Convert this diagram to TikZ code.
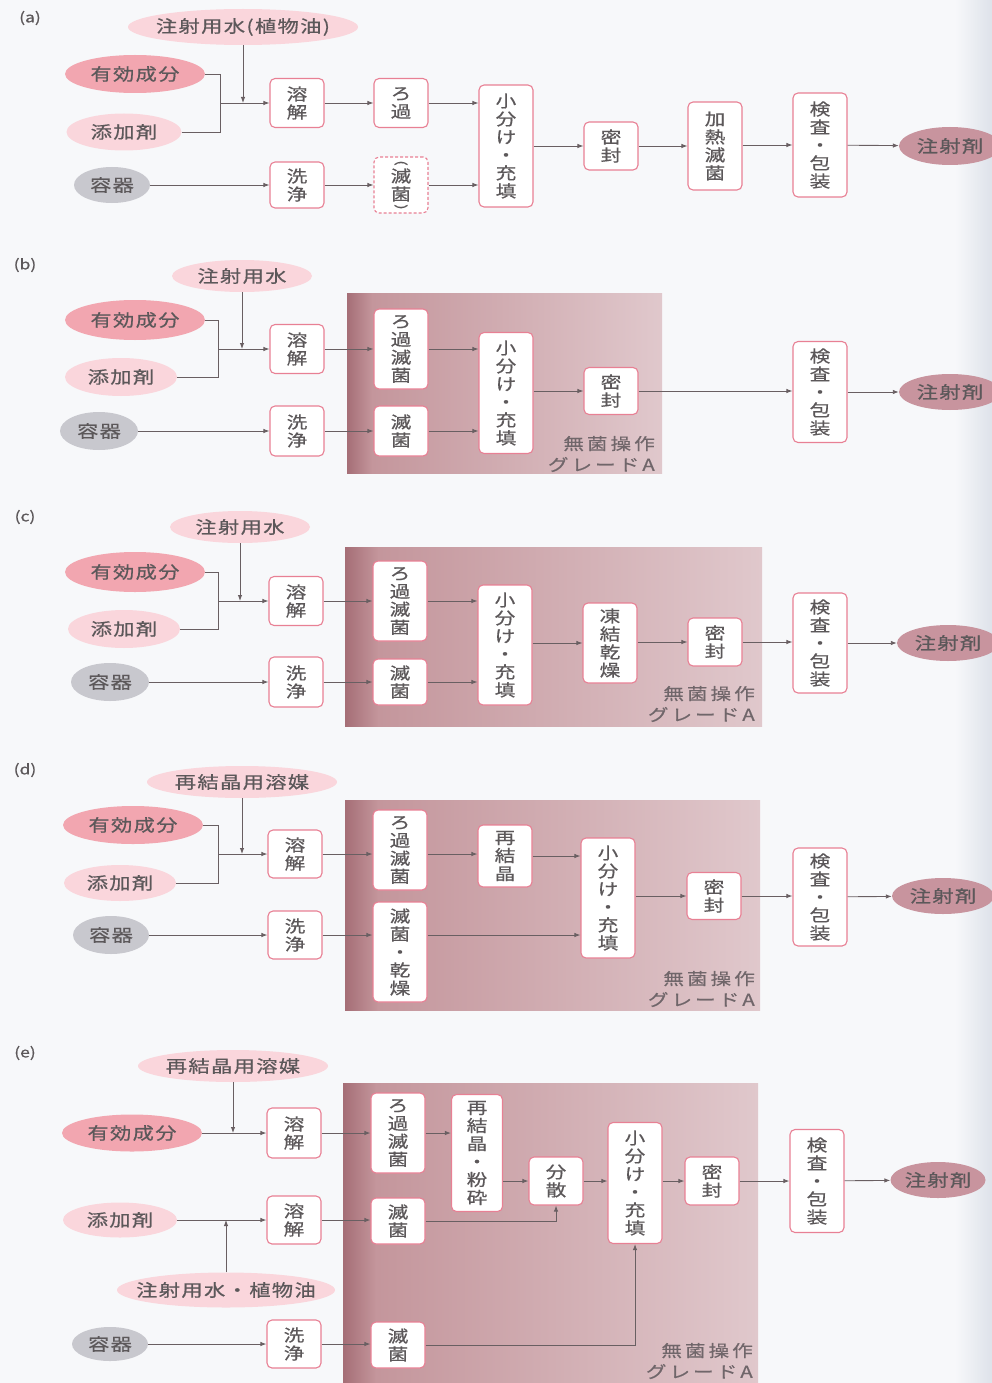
\documentclass[tikz,border=0pt]{standalone}
\usepackage{fontspec}
\setmainfont{Noto Sans CJK JP}[FakeStretch=1.25,FakeBold=0.6]
\newfontfamily\elfont{Noto Sans CJK JP}[FakeStretch=1.25,FakeBold=0.6,LetterSpace=8]
\newfontfamily\ztfont{Noto Sans CJK JP}[FakeStretch=1.25,FakeBold=0.4,LetterSpace=18]
\usetikzlibrary{shapes.geometric,arrows.meta}
\definecolor{txt}{RGB}{92,88,90}
\definecolor{ztc}{RGB}{112,102,106}
\definecolor{bord}{RGB}{232,128,148}
\definecolor{pkD}{RGB}{242,166,176}
\definecolor{pkL}{RGB}{250,214,220}
\definecolor{gry}{RGB}{200,200,206}
\definecolor{prod}{RGB}{200,148,158}
\definecolor{zoneL}{RGB}{165,110,118}
\definecolor{zoneM}{RGB}{196,150,156}
\definecolor{zoneR}{RGB}{224,200,204}
\definecolor{lnc}{RGB}{105,95,98}
\definecolor{bgc}{RGB}{247,248,250}
\definecolor{edgec}{RGB}{222,226,234}
\pgfdeclarehorizontalshading{zoneshade}{100bp}{color(0bp)=(zoneL); color(25bp)=(zoneL); color(29bp)=(zoneM); color(75bp)=(zoneR); color(100bp)=(zoneR)}
\newcommand\E[1]{\makebox[0pt]{#1}}
\tikzset{
 bx/.style={draw=bord, line width=1.1pt, rounded corners=5pt, fill=white, minimum width=54pt, inner sep=0pt, align=center, text=txt, font=\fontsize{16.5}{18}\selectfont},
 dbx/.style={bx, dash pattern=on 3pt off 2pt},
 el/.style={ellipse, inner sep=0pt, text=txt, font=\elfont\fontsize{17}{18}\selectfont},
 ar/.style={draw=lnc, line width=0.9pt, -{Latex[length=6pt,width=4.5pt]}},
 pl/.style={draw=lnc, line width=0.9pt},
 zone/.style={shading=zoneshade, draw=none},
 zt/.style={align=right, text=ztc, font=\ztfont\fontsize{16.5}{21}\selectfont, anchor=east, inner sep=0pt},
 par/.style={text=txt, font=\fontsize{13}{13}\selectfont, inner sep=0pt, rotate=-90},
 lab/.style={text=txt, font=\fontsize{14}{15}\selectfont}
}
\begin{document}
\begin{tikzpicture}[x=1pt,y=-1pt]
\useasboundingbox (0,0) rectangle (992,1383);
\fill[bgc] (0,0) rectangle (992,1383);
\shade[left color=bgc, right color=edgec] (955,0) rectangle (992,1383);

%% (a)
\node[lab] (la) at (30,18) {(a)};
\node[el, fill=pkL, minimum width=230pt, minimum height=36pt] (aW) at (243,27) {\E{注射用水(植物油)}};
\node[el, fill=pkD, minimum width=140pt, minimum height=38pt] (aE) at (135,74) {\E{有効成分}};
\node[el, fill=pkL, minimum width=115pt, minimum height=37pt] (aA) at (124,132) {\E{添加剤}};
\node[el, fill=gry, minimum width=76pt, minimum height=36pt] (aC) at (112,185) {\E{容器}};
\node[bx, minimum height=49pt] (aD) at (297,103) {溶\\解};
\node[bx, minimum height=49pt] (aF) at (401,103) {ろ\\過};
\node[bx, minimum height=46pt] (aWa) at (297,185) {洗\\浄};
\node[dbx, minimum height=56pt] (aS) at (401,185) {滅\\菌};
\node[par] (aSp) at ([yshift=22pt]aS.center) {(};
\node[par] (aSq) at ([yshift=-22pt]aS.center) {)};
\node[bx, minimum height=122pt] (aP) at (506,146) {小\\分\\け\\・\\充\\填};
\node[bx, minimum height=48pt] (aM) at (611,146) {密\\封};
\node[bx, minimum height=88pt] (aH) at (715,146) {加\\熱\\滅\\菌};
\node[bx, minimum height=104pt] (aI) at (820,145) {検\\査\\・\\包\\装};
\node[el, fill=prod, minimum width=102pt, minimum height=38pt] (aO) at (950,146) {\E{注射剤}};
\coordinate (aJ) at (220,103);
\draw[pl] (aE.east) -| (aJ);
\draw[pl] (aA.east) -| (aJ);
\draw[ar] (aJ) -- (aD.west);
\draw[ar] (aW.south) -- (aW.south |- aJ);
\draw[ar] (aC.east) -- (aWa.west);
\draw[ar] (aD) -- (aF);
\draw[ar] (aWa) -- (aS);
\draw[ar] (aF.east) -- (aF.east -| aP.west);
\draw[ar] (aS.east) -- (aS.east -| aP.west);
\draw[ar] (aP.east |- aM) -- (aM.west);
\draw[ar] (aM) -- (aH);
\draw[ar] (aH.east |- aI) -- (aI.west);
\draw[ar] (aI) -- (aO);

%% (b)
\node[lab] (lb) at (25,265) {(b)};
\node[el, fill=pkL, minimum width=140pt, minimum height=32pt] (bW) at (242,276) {\E{注射用水}};
\node[el, fill=pkD, minimum width=140pt, minimum height=40pt] (bE) at (135,320) {\E{有効成分}};
\node[el, fill=pkL, minimum width=112pt, minimum height=38pt] (bA) at (121,377) {\E{添加剤}};
\node[el, fill=gry, minimum width=78pt, minimum height=38pt] (bC) at (99,431) {\E{容器}};
\node[bx, minimum height=49pt] (bD) at (297,349) {溶\\解};
\node[bx, minimum height=50pt] (bWa) at (297,431) {洗\\浄};
\shade[zone] (347,293) rectangle (662,473);
\node[bx, minimum height=80pt] (bF) at (401,349) {ろ\\過\\滅\\菌};
\node[bx, minimum height=50pt] (bS) at (401,431) {滅\\菌};
\node[bx, minimum height=121pt] (bP) at (506,393) {小\\分\\け\\・\\充\\填};
\node[bx, minimum height=47pt] (bM) at (611,391) {密\\封};
\node[zt] (bZ) at (655,454) {無菌操作\\グレードA};
\node[bx, minimum height=101pt] (bI) at (820,392) {検\\査\\・\\包\\装};
\node[el, fill=prod, minimum width=102pt, minimum height=36pt] (bO) at (950,392) {\E{注射剤}};
\coordinate (bJ) at (218,349);
\draw[pl] (bE.east) -| (bJ);
\draw[pl] (bA.east) -| (bJ);
\draw[ar] (bJ) -- (bD.west);
\draw[ar] (bW.south) -- (bW.south |- bJ);
\draw[ar] (bC.east) -- (bWa.west);
\draw[ar] (bD) -- (bF);
\draw[ar] (bWa) -- (bS);
\draw[ar] (bF.east) -- (bF.east -| bP.west);
\draw[ar] (bS.east) -- (bS.east -| bP.west);
\draw[ar] (bP.east |- bM) -- (bM.west);
\draw[ar] (bM.east) -- (bM.east -| bI.west);
\draw[ar] (bI) -- (bO);

%% (c)
\node[lab] (lc) at (25,517) {(c)};
\node[el, fill=pkL, minimum width=140pt, minimum height=32pt] (cW) at (240,527) {\E{注射用水}};
\node[el, fill=pkD, minimum width=140pt, minimum height=40pt] (cE) at (135,572) {\E{有効成分}};
\node[el, fill=pkL, minimum width=112pt, minimum height=38pt] (cA) at (124,629) {\E{添加剤}};
\node[el, fill=gry, minimum width=78pt, minimum height=38pt] (cC) at (110,682) {\E{容器}};
\node[bx, minimum height=49pt] (cD) at (296,601) {溶\\解};
\node[bx, minimum height=50pt] (cWa) at (296,682) {洗\\浄};
\shade[zone] (345,547) rectangle (762,726);
\node[bx, minimum height=80pt] (cF) at (400,601) {ろ\\過\\滅\\菌};
\node[bx, minimum height=46pt] (cS) at (400,682) {滅\\菌};
\node[bx, minimum height=120pt] (cP) at (505,645) {小\\分\\け\\・\\充\\填};
\node[bx, minimum height=80pt] (cFD) at (610,643) {凍\\結\\乾\\燥};
\node[bx, minimum height=48pt] (cM) at (715,642) {密\\封};
\node[zt] (cZ) at (755,704) {無菌操作\\グレードA};
\node[bx, minimum height=100pt] (cI) at (820,643) {検\\査\\・\\包\\装};
\node[el, fill=prod, minimum width=102pt, minimum height=36pt] (cO) at (948,643) {\E{注射剤}};
\coordinate (cJ) at (218,601);
\draw[pl] (cE.east) -| (cJ);
\draw[pl] (cA.east) -| (cJ);
\draw[ar] (cJ) -- (cD.west);
\draw[ar] (cW.south) -- (cW.south |- cJ);
\draw[ar] (cC.east) -- (cWa.west);
\draw[ar] (cD) -- (cF);
\draw[ar] (cWa) -- (cS);
\draw[ar] (cF.east) -- (cF.east -| cP.west);
\draw[ar] (cS.east) -- (cS.east -| cP.west);
\draw[ar] (cP.east |- cFD) -- (cFD.west);
\draw[ar] (cFD.east |- cM) -- (cM.west);
\draw[ar] (cM.east) -- (cM.east -| cI.west);
\draw[ar] (cI) -- (cO);

%% (d)
\node[lab] (ld) at (25,770) {(d)};
\node[el, fill=pkL, minimum width=190pt, minimum height=32pt] (dW) at (242,782) {\E{再結晶用溶媒}};
\node[el, fill=pkD, minimum width=140pt, minimum height=38pt] (dE) at (133,825) {\E{有効成分}};
\node[el, fill=pkL, minimum width=112pt, minimum height=36pt] (dA) at (120,883) {\E{添加剤}};
\node[el, fill=gry, minimum width=76pt, minimum height=38pt] (dC) at (111,935) {\E{容器}};
\node[bx, minimum height=48pt] (dD) at (295,854) {溶\\解};
\node[bx, minimum height=48pt] (dWa) at (295,935) {洗\\浄};
\shade[zone] (345,800) rectangle (760,1010);
\node[bx, minimum height=80pt] (dF) at (400,850) {ろ\\過\\滅\\菌};
\node[bx, minimum height=62pt] (dR) at (505,856) {再\\結\\晶};
\node[bx, minimum height=100pt] (dS) at (400,952) {滅\\菌\\・\\乾\\燥};
\node[bx, minimum height=120pt] (dP) at (608,898) {小\\分\\け\\・\\充\\填};
\node[bx, minimum height=47pt] (dM) at (714,896) {密\\封};
\node[zt] (dZ) at (755,989) {無菌操作\\グレードA};
\node[bx, minimum height=98pt] (dI) at (820,897) {検\\査\\・\\包\\装};
\node[el, fill=prod, minimum width=102pt, minimum height=36pt] (dO) at (943,896) {\E{注射剤}};
\coordinate (dJ) at (218,854);
\draw[pl] (dE.east) -| (dJ);
\draw[pl] (dA.east) -| (dJ);
\draw[ar] (dJ) -- (dD.west);
\draw[ar] (dW.south) -- (dW.south |- dJ);
\draw[ar] (dC.east) -- (dC.east -| dWa.west);
\draw[ar] (dD.east) -- (dD.east -| dF.west);
\draw[ar] (dF.east |- dD.east) -- (dD.east -| dR.west);
\draw[ar] (dR.east) -- (dR.east -| dP.west);
\draw[ar] (dWa.east) -- (dWa.east -| dS.west);
\draw[ar] (dWa.east -| dS.east) -- (dWa.east -| dP.west);
\draw[ar] (dP.east |- dM) -- (dM.west);
\draw[ar] (dM.east) -- (dM.east -| dI.west);
\draw[ar] (dI) -- (dO);

%% (e)
\node[lab] (le) at (25,1053) {(e)};
\node[el, fill=pkL, minimum width=190pt, minimum height=32pt] (eW) at (233,1066) {\E{再結晶用溶媒}};
\node[el, fill=pkD, minimum width=140pt, minimum height=37pt] (eE) at (132,1133) {\E{有効成分}};
\node[bx, minimum height=50pt] (eD) at (294,1133) {溶\\解};
\node[el, fill=pkL, minimum width=114pt, minimum height=35pt] (eA) at (120,1220) {\E{添加剤}};
\node[bx, minimum height=48pt] (eD2) at (294,1220) {溶\\解};
\node[el, fill=pkL, minimum width=218pt, minimum height=35pt] (eV) at (226,1290) {\E{注射用水・植物油}};
\node[el, fill=gry, minimum width=76pt, minimum height=34pt] (eC) at (110,1344) {\E{容器}};
\node[bx, minimum height=48pt] (eWa) at (294,1344) {洗\\浄};
\shade[zone] (343,1083) rectangle (758,1390);
\node[bx, minimum height=80pt] (eF) at (398,1133) {ろ\\過\\滅\\菌};
\node[bx, minimum width=51pt, minimum height=117pt] (eR) at (477,1153) {再\\結\\晶\\・\\粉\\砕};
\node[bx, minimum height=46pt] (eS2) at (398,1221) {滅\\菌};
\node[bx, minimum height=46pt] (eS3) at (398,1345) {滅\\菌};
\node[bx, minimum height=48pt] (eX) at (556,1181) {分\\散};
\node[bx, minimum height=121pt] (eP) at (635,1183) {小\\分\\け\\・\\充\\填};
\node[bx, minimum height=48pt] (eM) at (712,1181) {密\\封};
\node[zt] (eZ) at (753,1361) {無菌操作\\グレードA};
\node[bx, minimum height=103pt] (eI) at (817,1181) {検\\査\\・\\包\\装};
\node[el, fill=prod, minimum width=95pt, minimum height=36pt] (eO) at (938,1180) {\E{注射剤}};
\draw[ar] (eE.east) -- (eE.east -| eD.west);
\draw[ar] (eW.south) -- (eW.south |- eE.east);
\draw[ar] (eA.east) -- (eA.east -| eD2.west);
\draw[ar] (eV.north) -- (eV.north |- eA.east);
\draw[ar] (eC.east) -- (eC.east -| eWa.west);
\draw[ar] (eD.east) -- (eD.east -| eF.west);
\draw[ar] (eD2.east) -- (eD2.east -| eS2.west);
\draw[ar] (eWa.east) -- (eWa.east -| eS3.west);
\draw[ar] (eF.east) -- (eF.east -| eR.west);
\draw[ar] (eR.east |- eX.west) -- (eX.west);
\draw[ar] (eS2.east) -| (eX.south);
\draw[ar] (eS3.east) -| (eP.south);
\draw[ar] (eX.east) -- (eX.east -| eP.west);
\draw[ar] (eP.east |- eM) -- (eM.west);
\draw[ar] (eM) -- (eI);
\draw[ar] (eI) -- (eO);
\end{tikzpicture}
\end{document}
